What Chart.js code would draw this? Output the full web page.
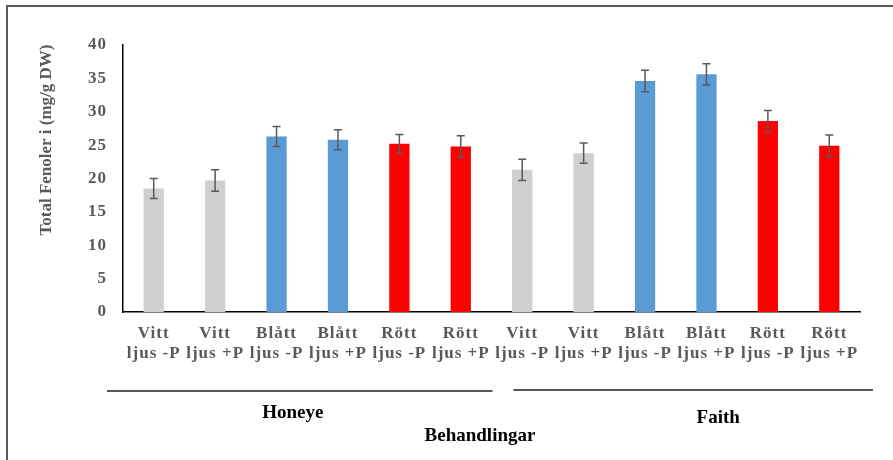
<!DOCTYPE html>
<html>
<head>
<meta charset="utf-8">
<script src="https://cdn.jsdelivr.net/npm/chart.js@4"></script>
<style>
html,body{margin:0;padding:0;background:#fff;}
canvas{display:block;}
</style>
</head>
<body>
<canvas id="c" width="893" height="460"></canvas>
<script>
const categories = [
  ['Vitt','ljus -P'],['Vitt','ljus +P'],['Blått','ljus -P'],['Blått','ljus +P'],['Rött','ljus -P'],['Rött','ljus +P'],
  ['Vitt','ljus -P'],['Vitt','ljus +P'],['Blått','ljus -P'],['Blått','ljus +P'],['Rött','ljus -P'],['Rött','ljus +P']
];
const values = [18.5, 19.7, 26.3, 25.8, 25.2, 24.8, 21.3, 23.8, 34.6, 35.6, 28.6, 24.9];
const errors = [1.5, 1.6, 1.5, 1.5, 1.4, 1.6, 1.6, 1.5, 1.6, 1.6, 1.6, 1.6];
const barColors = ['#D0CECE','#D0CECE','#5B9BD5','#5B9BD5','#FF0000','#FF0000','#D0CECE','#D0CECE','#5B9BD5','#5B9BD5','#FF0000','#FF0000'];
const groups = ['Honeye','Faith'];
const yTitle = 'Total Fenoler i (mg/g DW)';
const xTitle = 'Behandlingar';
const yTicks = [0,5,10,15,20,25,30,35,40];

const SERIF = '"Liberation Serif", "Times New Roman", serif';

const decor = {
  id: 'decor',
  beforeDraw(chart) {
    const ctx = chart.ctx;
    ctx.save();
    ctx.fillStyle = '#fff';
    ctx.fillRect(0, 0, chart.width, chart.height);
    ctx.strokeStyle = '#595959';
    ctx.lineWidth = 2;
    ctx.beginPath();
    ctx.moveTo(7, 460);
    ctx.lineTo(7, 6);
    ctx.lineTo(893, 6);
    ctx.stroke();
    ctx.restore();
    ctx.letterSpacing = '1px';
  },
  beforeDatasetsDraw(chart) {
    chart.ctx.letterSpacing = '0px';
  },
  afterDatasetsDraw(chart) {
    const ctx = chart.ctx;
    const ys = chart.scales.y;
    const meta = chart.getDatasetMeta(0);
    ctx.save();
    ctx.strokeStyle = '#595959';
    ctx.lineWidth = 1.5;
    meta.data.forEach((bar, i) => {
      const x = bar.x;
      const top = ys.getPixelForValue(values[i] + errors[i]);
      const bot = ys.getPixelForValue(values[i] - errors[i]);
      ctx.beginPath();
      ctx.moveTo(x, top); ctx.lineTo(x, bot);
      ctx.moveTo(x - 4, top); ctx.lineTo(x + 4, top);
      ctx.moveTo(x - 4, bot); ctx.lineTo(x + 4, bot);
      ctx.stroke();
    });
    ctx.restore();
  },
  afterDraw(chart) {
    const ctx = chart.ctx;
    const xs = chart.scales.x;
    const ca = chart.chartArea;
    const cell = (ca.right - ca.left) / categories.length;
    ctx.save();
    ctx.letterSpacing = '0px';
    // y title
    ctx.fillStyle = '#595959';
    ctx.font = 'bold 17px ' + SERIF;
    ctx.textAlign = 'center';
    ctx.textBaseline = 'middle';
    ctx.translate(47, 140);
    ctx.rotate(-Math.PI / 2);
    ctx.fillText(yTitle, 0, 0);
    ctx.setTransform(1, 0, 0, 1, 0, 0);
    // group lines
    ctx.strokeStyle = '#222';
    ctx.lineWidth = 1.5;
    const hx0 = xs.getPixelForValue(0) - cell / 2 - 16;
    const hx1 = xs.getPixelForValue(5) + cell / 2 + 1;
    const fx0 = xs.getPixelForValue(6) - cell / 2 + 22;
    const fx1 = xs.getPixelForValue(11) + cell / 2 + 13;
    ctx.beginPath();
    ctx.moveTo(hx0, 391); ctx.lineTo(hx1, 391);
    ctx.moveTo(fx0, 390); ctx.lineTo(fx1, 390);
    ctx.stroke();
    ctx.fillStyle = '#000';
    ctx.font = 'bold 19px ' + SERIF;
    ctx.textAlign = 'center';
    ctx.textBaseline = 'middle';
    ctx.fillText(groups[0], (hx0 + hx1) / 2 - 7, 413);
    ctx.fillText(groups[1], (fx0 + fx1) / 2 + 25, 418);
    ctx.fillText(xTitle, 480, 436);
    ctx.restore();
  }
};

new Chart(document.getElementById('c'), {
  type: 'bar',
  data: {
    labels: categories,
    datasets: [{
      data: values,
      backgroundColor: barColors,
      borderWidth: 0,
      categoryPercentage: 1,
      barPercentage: 0.33
    }]
  },
  options: {
    responsive: false,
    animation: false,
    events: [],
    layout: { padding: { left: 0, top: 45, right: 33, bottom: 0 } },
    plugins: { legend: { display: false }, tooltip: { enabled: false }, title: { display: false } },
    scales: {
      x: {
        grid: { display: false, drawTicks: false },
        border: { display: true, color: '#000', width: 1.5 },
        ticks: {
          color: '#595959',
          font: { family: SERIF, size: 17, weight: 'bold', lineHeight: 1.15 },
          padding: 12,
          maxRotation: 0,
          autoSkip: false
        },
        afterFit(s) { s.height = 148; }
      },
      y: {
        min: 0, max: 40,
        afterBuildTicks(s) { s.ticks = yTicks.map(v => ({ value: v })); },
        grid: { display: false, drawTicks: false },
        border: { display: true, color: '#000', width: 1.5 },
        ticks: {
          color: '#595959',
          font: { family: SERIF, size: 17, weight: 'bold' },
          padding: 16
        },
        afterFit(s) { s.width = 123; }
      }
    }
  },
  plugins: [decor]
});
</script>
</body>
</html>
